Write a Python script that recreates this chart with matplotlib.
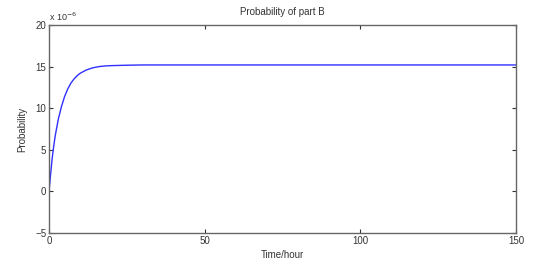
import matplotlib
matplotlib.use("Agg")
import matplotlib.pyplot as plt

# Data (probability in units of 1e-6)
time_hours = [0, 0.5, 1, 1.5, 2, 3, 4, 5, 6, 7, 8, 9, 10, 12, 14, 16, 18, 20, 25, 30, 50, 100, 150]
prob_e6 = [0, 2.0, 3.9, 5.4, 6.7, 8.7, 10.2, 11.4, 12.3, 13.0, 13.5, 13.9, 14.2, 14.6, 14.85, 15.0, 15.08, 15.12, 15.17, 15.2, 15.2, 15.2, 15.2]
x_ticks = [0, 50, 100, 150]
y_ticks = [-5, 0, 5, 10, 15, 20]

plt.rcParams['font.family'] = ['Liberation Sans', 'DejaVu Sans']

fig = plt.figure(figsize=(5.35, 2.68), dpi=100)
ax = fig.add_axes([0.0916, 0.1306, 0.873, 0.776])
ax.plot(time_hours, prob_e6, color='#3030ff', linewidth=1.0)
ax.set_xlim(0, 150)
ax.set_ylim(-5, 20)
ax.set_xticks(x_ticks)
ax.set_yticks(y_ticks)
ax.tick_params(direction='in', length=3, width=0.8, labelsize=7, colors='#333333',
               top=True, right=True, pad=2)
for s in ax.spines.values():
    s.set_color('#666666')
    s.set_linewidth(1.0)
ax.set_title('Probability of part B', fontsize=7, color='#333333', pad=7)
ax.set_xlabel('Time/hour', fontsize=7, color='#333333', labelpad=3)
ax.set_ylabel('Probability', fontsize=7, color='#333333', labelpad=6)
ax.text(0.0, 1.01, r'x 10$^{-6}$', transform=ax.transAxes, fontsize=6.5,
        color='#333333', ha='left', va='bottom')

fig.savefig('out.png', dpi=100)
